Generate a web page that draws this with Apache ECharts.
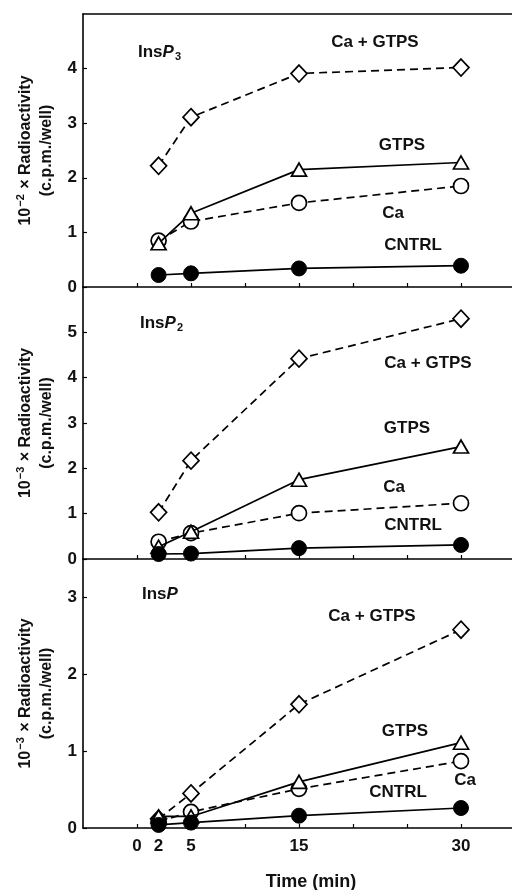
<!DOCTYPE html>
<html>
<head>
<meta charset="utf-8">
<script src="https://cdn.jsdelivr.net/npm/echarts@6/dist/echarts.min.js"></script>
<style>html,body{margin:0;padding:0;background:#fff;}#c{width:512px;height:890px;}</style>
</head>
<body>
<div id="c"></div>
<script>
// ---- data ----
const times = [2, 5, 15, 30];
const xTickValues = [0, 5, 10, 15, 20, 25, 30];
const xLabelValues = [0, 2, 5, 15, 30];

const p3CaGtps = [2.22, 3.11, 3.91, 4.02];
const p3Gtps   = [0.80, 1.35, 2.15, 2.28];
const p3Ca     = [0.85, 1.20, 1.54, 1.85];
const p3Cntrl  = [0.22, 0.25, 0.34, 0.39];

const p2CaGtps = [1.03, 2.17, 4.42, 5.30];
const p2Gtps   = [0.27, 0.60, 1.75, 2.48];
const p2Ca     = [0.38, 0.57, 1.01, 1.23];
const p2Cntrl  = [0.11, 0.12, 0.24, 0.31];

const p1CaGtps = [0.12, 0.45, 1.61, 2.58];
const p1Gtps   = [0.15, 0.15, 0.60, 1.11];
const p1Ca     = [0.08, 0.21, 0.51, 0.87];
const p1Cntrl  = [0.04, 0.07, 0.16, 0.26];

const p3YTicks = [0, 1, 2, 3, 4];
const p2YTicks = [0, 1, 2, 3, 4, 5];
const p1YTicks = [0, 1, 2, 3];

const FONT = 'Liberation Sans, Arial, Helvetica, sans-serif';
const INK = '#111';

const chart = echarts.init(document.getElementById('c'), null, {renderer: 'canvas'});

const grids = [
  {left: 83, top: 14, width: 432, height: 273},
  {left: 83, top: 287, width: 432, height: 272},
  {left: 83, top: 559, width: 432, height: 269}
].map(g => Object.assign(g, {show: false, outerBoundsMode: 'none', containLabel: false}));

function xAxis(i, showLabels) {
  return {
    type: 'value', gridIndex: i, min: -5, max: 35, interval: 5,
    axisLine: {show: true, onZero: false, lineStyle: {color: '#000', width: 1.6}},
    axisTick: {show: true, inside: true, length: 4, customValues: xTickValues, lineStyle: {color: '#000', width: 1.2}},
    axisLabel: {show: showLabels, customValues: xLabelValues, color: INK, fontFamily: FONT, fontWeight: 'bold', fontSize: 17, margin: 10},
    splitLine: {show: false}
  };
}
// top border of the upper panel
const topBorder = {
  type: 'value', gridIndex: 0, min: -5, max: 35, position: 'top',
  axisLine: {show: true, onZero: false, lineStyle: {color: '#000', width: 1.6}},
  axisTick: {show: false}, axisLabel: {show: false}, splitLine: {show: false}
};
function yAxis(i, max, ticks, name) {
  return {
    type: 'value', gridIndex: i, min: 0, max: max,
    axisLine: {show: true, onZero: false, lineStyle: {color: '#000', width: 1.6}},
    axisTick: {show: true, inside: true, length: 4, customValues: ticks, lineStyle: {color: '#000', width: 1.2}},
    axisLabel: {show: true, customValues: ticks, color: INK, fontFamily: FONT, fontWeight: 'bold', fontSize: 17, margin: 6},
    splitLine: {show: false},
    name: name, nameLocation: 'middle', nameGap: 26,
    nameTextStyle: {color: INK, fontFamily: FONT, fontWeight: 'bold', fontSize: 16, lineHeight: 21,
      rich: {s: {fontFamily: FONT, fontWeight: 'bold', fontSize: 11, color: INK, lineHeight: 21, padding: [0, 1, 9, 1]}}}
  };
}

function pairs(vals) { return times.map((t, k) => [t, vals[k]]); }

const openStyle = {color: '#fff', borderColor: '#000', borderWidth: 1.7};
function series(i, vals, kind) {
  const base = {type: 'line', xAxisIndex: i, yAxisIndex: i, data: pairs(vals), animation: false, silent: true};
  if (kind === 'diamond') return Object.assign(base, {symbol: 'diamond', symbolSize: [16, 17], itemStyle: openStyle, lineStyle: {color: '#000', width: 1.7, type: [8, 5]}, z: 3});
  if (kind === 'triangle') return Object.assign(base, {symbol: 'triangle', symbolSize: [15, 13], itemStyle: openStyle, lineStyle: {color: '#000', width: 1.7, type: 'solid'}, z: 4});
  if (kind === 'circle') return Object.assign(base, {symbol: 'circle', symbolSize: 15, itemStyle: openStyle, lineStyle: {color: '#000', width: 1.7, type: [8, 5]}, z: 3});
  return Object.assign(base, {symbol: 'circle', symbolSize: 15, itemStyle: {color: '#000', borderColor: '#000', borderWidth: 1}, lineStyle: {color: '#000', width: 1.7, type: 'solid'}, z: 5});
}

const yName2 = '10{s|\u22122} \u00D7 Radioactivity\n(c.p.m./well)';
const yName3 = '10{s|\u22123} \u00D7 Radioactivity\n(c.p.m./well)';

function txt(x, y, t, size) {
  return {type: 'text', x: x, y: y, silent: true, z: 10,
    style: {text: t, fill: INK, font: 'bold ' + (size || 17) + 'px ' + FONT, align: 'center', verticalAlign: 'middle'}};
}
function insTxt(x, y, sub) {
  return {type: 'text', x: x, y: y, silent: true, z: 10,
    style: {text: '{a|Ins}{b|P}' + (sub ? '{c|' + sub + '}' : ''), fill: INK, align: 'left', verticalAlign: 'middle',
      rich: {a: {fontFamily: FONT, fontSize: 17, fontWeight: 'bold', color: INK},
             b: {fontFamily: FONT, fontSize: 17, fontWeight: 'bold', fontStyle: 'italic', color: INK},
             c: {fontFamily: FONT, fontSize: 11, fontWeight: 'bold', color: INK, padding: [9, 0, 0, 1]}}}};
}

chart.setOption({
  backgroundColor: '#fff',
  animation: false,
  grid: grids,
  xAxis: [xAxis(0, false), xAxis(1, false), xAxis(2, true), topBorder],
  yAxis: [yAxis(0, 5, p3YTicks, yName2), yAxis(1, 6, p2YTicks, yName3), yAxis(2, 3.5, p1YTicks, yName3)],
  series: [
    series(0, p3CaGtps, 'diamond'), series(0, p3Gtps, 'triangle'), series(0, p3Ca, 'circle'), series(0, p3Cntrl, 'filled'),
    series(1, p2CaGtps, 'diamond'), series(1, p2Gtps, 'triangle'), series(1, p2Ca, 'circle'), series(1, p2Cntrl, 'filled'),
    series(2, p1CaGtps, 'diamond'), series(2, p1Gtps, 'triangle'), series(2, p1Ca, 'circle'), series(2, p1Cntrl, 'filled')
  ],
  graphic: [
    insTxt(138, 52, '3'),
    txt(375, 42, 'Ca + GTPS'), txt(402, 145, 'GTPS'), txt(393, 213, 'Ca'), txt(413, 245, 'CNTRL'),
    insTxt(140, 323, '2'),
    txt(428, 363, 'Ca + GTPS'), txt(407, 428, 'GTPS'), txt(394, 487, 'Ca'), txt(413, 525, 'CNTRL'),
    insTxt(142, 594, ''),
    txt(372, 616, 'Ca + GTPS'), txt(405, 731, 'GTPS'), txt(465, 780, 'Ca'), txt(398, 792, 'CNTRL'),
    txt(311, 882, 'Time (min)', 18)
  ]
});
</script>
</body>
</html>
